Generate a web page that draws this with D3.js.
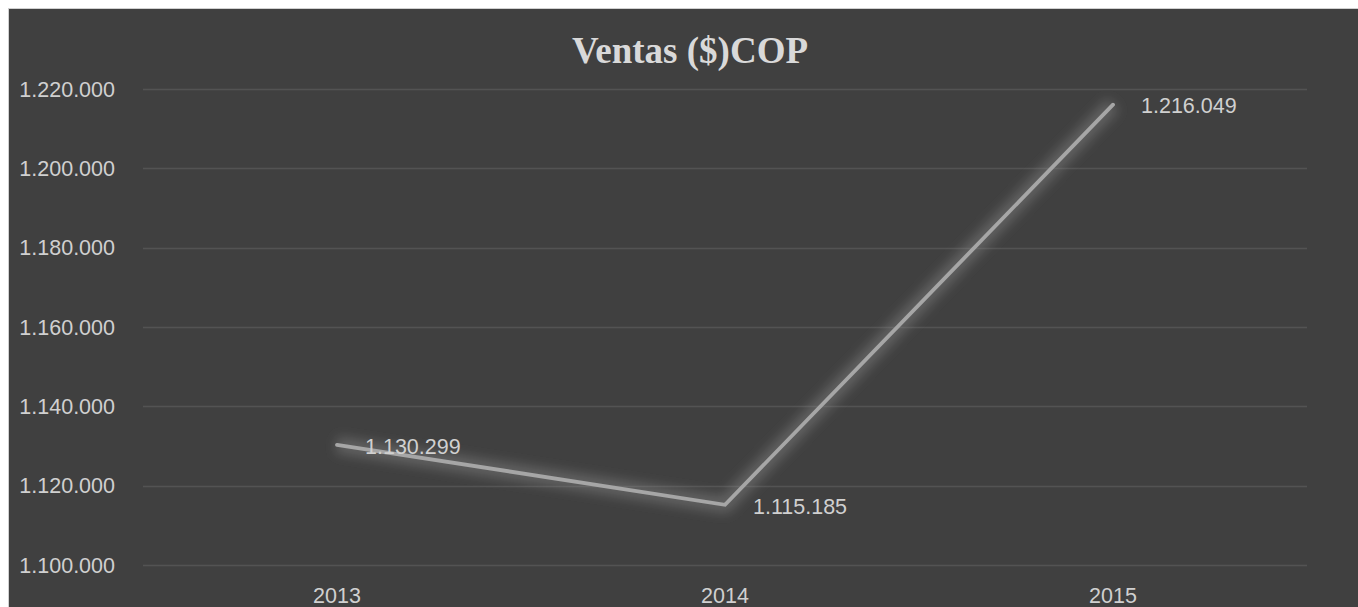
<!DOCTYPE html>
<head>
    <meta charset="utf-8">
    <title>Ventas ($)COP</title>
    <script src="https://d3js.org/d3.v7.min.js"></script>
    <style>
        body { margin:0; background:#ffffff; overflow:hidden; }
        text { font-family: Arial, "Liberation Sans", sans-serif; }
    </style>
</head>

<body>
    <svg id="chart" width="1358" height="607"></svg>
    <script>
        // data
        const years = ["2013", "2014", "2015"];
        const ventas = [1130299, 1115185, 1216049];
        const yTicks = [1100000, 1120000, 1140000, 1160000, 1180000, 1200000, 1220000];

        const W = 1358, H = 607;
        const plot = { left: 143, right: 1307, top: 89, bottom: 565 };

        // es-CO style numbers: 1.220.000
        const fmt = d => d3.format(",d")(d).replace(/,/g, ".");

        const svg = d3.select("#chart");

        const defs = svg.append("defs");
        const glow = defs.append("filter")
                .attr("id", "glow")
                .attr("x", "-20%").attr("y", "-20%")
                .attr("width", "140%").attr("height", "140%");
        glow.append("feGaussianBlur").attr("stdDeviation", 6);

        // chart area with thin frame
        svg.append("rect")
                .attr("x", 8.5).attr("y", 8.5)
                .attr("width", W).attr("height", H)
                .attr("fill", "#404040")
                .attr("stroke", "#d0d0d0")
                .attr("stroke-width", 1);

        const x = d3.scalePoint()
                .domain(years)
                .range([plot.left, plot.right])
                .padding(0.5);

        const y = d3.scaleLinear()
                .domain([1100000, 1220000])
                .range([plot.bottom, plot.top]);

        // gridlines
        svg.append("g")
                .selectAll("line")
                .data(yTicks)
                .join("line")
                .attr("x1", plot.left)
                .attr("x2", plot.right)
                .attr("y1", d => Math.round(y(d)) + 0.5)
                .attr("y2", d => Math.round(y(d)) + 0.5)
                .attr("stroke", "#535353")
                .attr("stroke-width", 1.3);

        // y axis labels
        svg.append("g")
                .selectAll("text")
                .data(yTicks)
                .join("text")
                .attr("x", 115)
                .attr("y", d => y(d))
                .attr("dy", "0.36em")
                .attr("text-anchor", "end")
                .attr("fill", "#d0d0d0")
                .style("font-size", "21.5px")
                .text(fmt);

        // x axis labels
        svg.append("g")
                .selectAll("text")
                .data(years)
                .join("text")
                .attr("x", d => x(d))
                .attr("y", 603)
                .attr("text-anchor", "middle")
                .attr("fill", "#d0d0d0")
                .style("font-size", "21.5px")
                .text(d => d);

        // title
        svg.append("text")
                .attr("x", 690)
                .attr("y", 63)
                .attr("text-anchor", "middle")
                .attr("fill", "#d9d9d9")
                .style("font-family", "'Times New Roman', 'Liberation Serif', serif")
                .style("font-weight", "bold")
                .style("font-size", "37px")
                .text("Ventas ($)COP");

        const pts = years.map((d, i) => [x(d), y(ventas[i])]);
        const line = d3.line();

        // soft glow under the line
        svg.append("path")
                .attr("d", line(pts))
                .attr("fill", "none")
                .attr("stroke", "#8c8c8c")
                .attr("stroke-width", 16)
                .attr("stroke-opacity", 0.45)
                .attr("stroke-linejoin", "round")
                .attr("filter", "url(#glow)");

        svg.append("path")
                .attr("d", line(pts))
                .attr("fill", "none")
                .attr("stroke", "#a6a6a6")
                .attr("stroke-width", 3.8)
                .attr("stroke-linecap", "round")
                .attr("stroke-linejoin", "miter");

        // data labels, to the right of each point
        svg.append("g")
                .selectAll("text")
                .data(years)
                .join("text")
                .attr("x", d => x(d) + 28)
                .attr("y", (d, i) => y(ventas[i]) + 1)
                .attr("dy", "0.36em")
                .attr("fill", "#d0d0d0")
                .style("font-size", "21.5px")
                .text((d, i) => fmt(ventas[i]));
    </script>
</body>
